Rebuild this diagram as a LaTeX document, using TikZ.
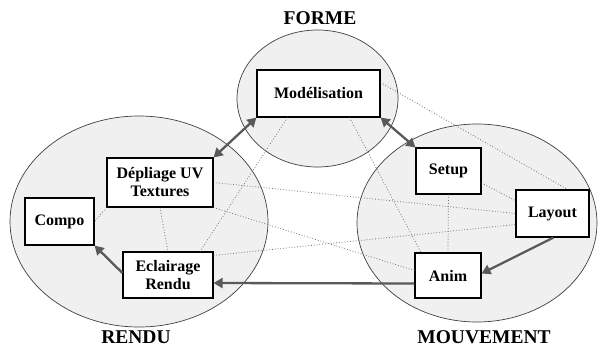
\documentclass[tikz,border=0pt]{standalone}
\usepackage{fontspec}
\setmainfont{Liberation Serif}
\usetikzlibrary{arrows.meta}

\begin{document}
\begin{tikzpicture}[x=1pt,y=-1pt]
				\tikzstyle{zone}=[fill=gray!12,draw=black!75,line width=0.7pt]
				\tikzstyle{titre}=[font=\fontsize{19.5}{22}\selectfont\bfseries,inner sep=0pt]
				\tikzstyle{tache}=[draw,fill=white,line width=1.1pt,align=center,
				font=\fontsize{16}{18}\selectfont\bfseries,inner sep=0pt]
				\tikzstyle{lien}=[draw=black!55,line width=0.8pt,dotted]
				\tikzstyle{fleche}=[draw=black!65,line width=2.3pt,
				-{Triangle[length=9pt,width=10pt]}]
				\tikzstyle{double fleche}=[fleche,
				{Triangle[length=9pt,width=10pt]}-{Triangle[length=9pt,width=10pt]}]
				\useasboundingbox (0,0) rectangle (598,349);
				% les trois zones
				\path[zone] (317.5,98.5) ellipse [x radius=80.5pt, y radius=68.5pt];
				\path[zone] (139,221.5) ellipse [x radius=129pt, y radius=105.5pt];
				\path[zone] (477,223) ellipse [x radius=120pt, y radius=99pt];
				\node[titre] (forme) at (320,18) {FORME};
				\node[titre] (rendu) at (136,337) {RENDU};
				\node[titre] (mouv) at (484,337) {MOUVEMENT};
				% les taches
				\node[tache,minimum width=123pt,minimum height=47pt] (mod) at (318.5,93.5) {Mod\'elisation};
				\node[tache,minimum width=106pt,minimum height=49pt] (depl) at (160,182.5) {D\'epliage UV\\Textures};
				\node[tache,minimum width=69pt,minimum height=47pt] (compo) at (59.5,221.5) {Compo};
				\node[tache,minimum width=90pt,minimum height=46pt] (eclair) at (168,275) {Eclairage\\Rendu};
				\node[tache,minimum width=65pt,minimum height=46pt] (setup) at (448.5,171) {Setup};
				\node[tache,minimum width=73pt,minimum height=47pt] (layout) at (552.5,213.5) {Layout};
				\node[tache,minimum width=66pt,minimum height=45pt] (anim) at (448,275.5) {Anim};
				% liens en pointilles
				\path[lien] ([yshift=11pt]mod.east) -- ([xshift=15pt]layout.north);
				\path[lien] ([xshift=-31pt]mod.south) -- ([xshift=32pt]eclair.north);
				\path[lien] ([xshift=31pt]mod.south) -- ([xshift=-27pt]anim.north);
				\path[lien] (depl.south west) -- (compo.east);
				\path[lien] (depl.south) -- (eclair.north);
				\path[lien] (depl.east) -- (layout.west);
				\path[lien] (depl.south east) -- ([yshift=5pt]anim.west);
				\path[lien] ([yshift=-4pt]eclair.north east) -- ([yshift=-11pt]layout.west);
				\path[lien] (setup.south) -- (anim.north);
				\path[lien] ([yshift=-12pt]setup.east) -- ([yshift=13pt]layout.west);
				% fleches
				\path[double fleche] (mod.south west) -- (depl.north east);
				\path[double fleche] (mod.south east) -- (setup.north west);
				\path[fleche] ([xshift=1pt]layout.south) -- ([yshift=2pt]anim.east);
				\path[fleche] ([yshift=-8pt]anim.west) -- ([yshift=-8pt]eclair.east);
				\path[fleche] ([yshift=2pt]eclair.west) -- (compo.south east);
\end{tikzpicture}
\end{document}
